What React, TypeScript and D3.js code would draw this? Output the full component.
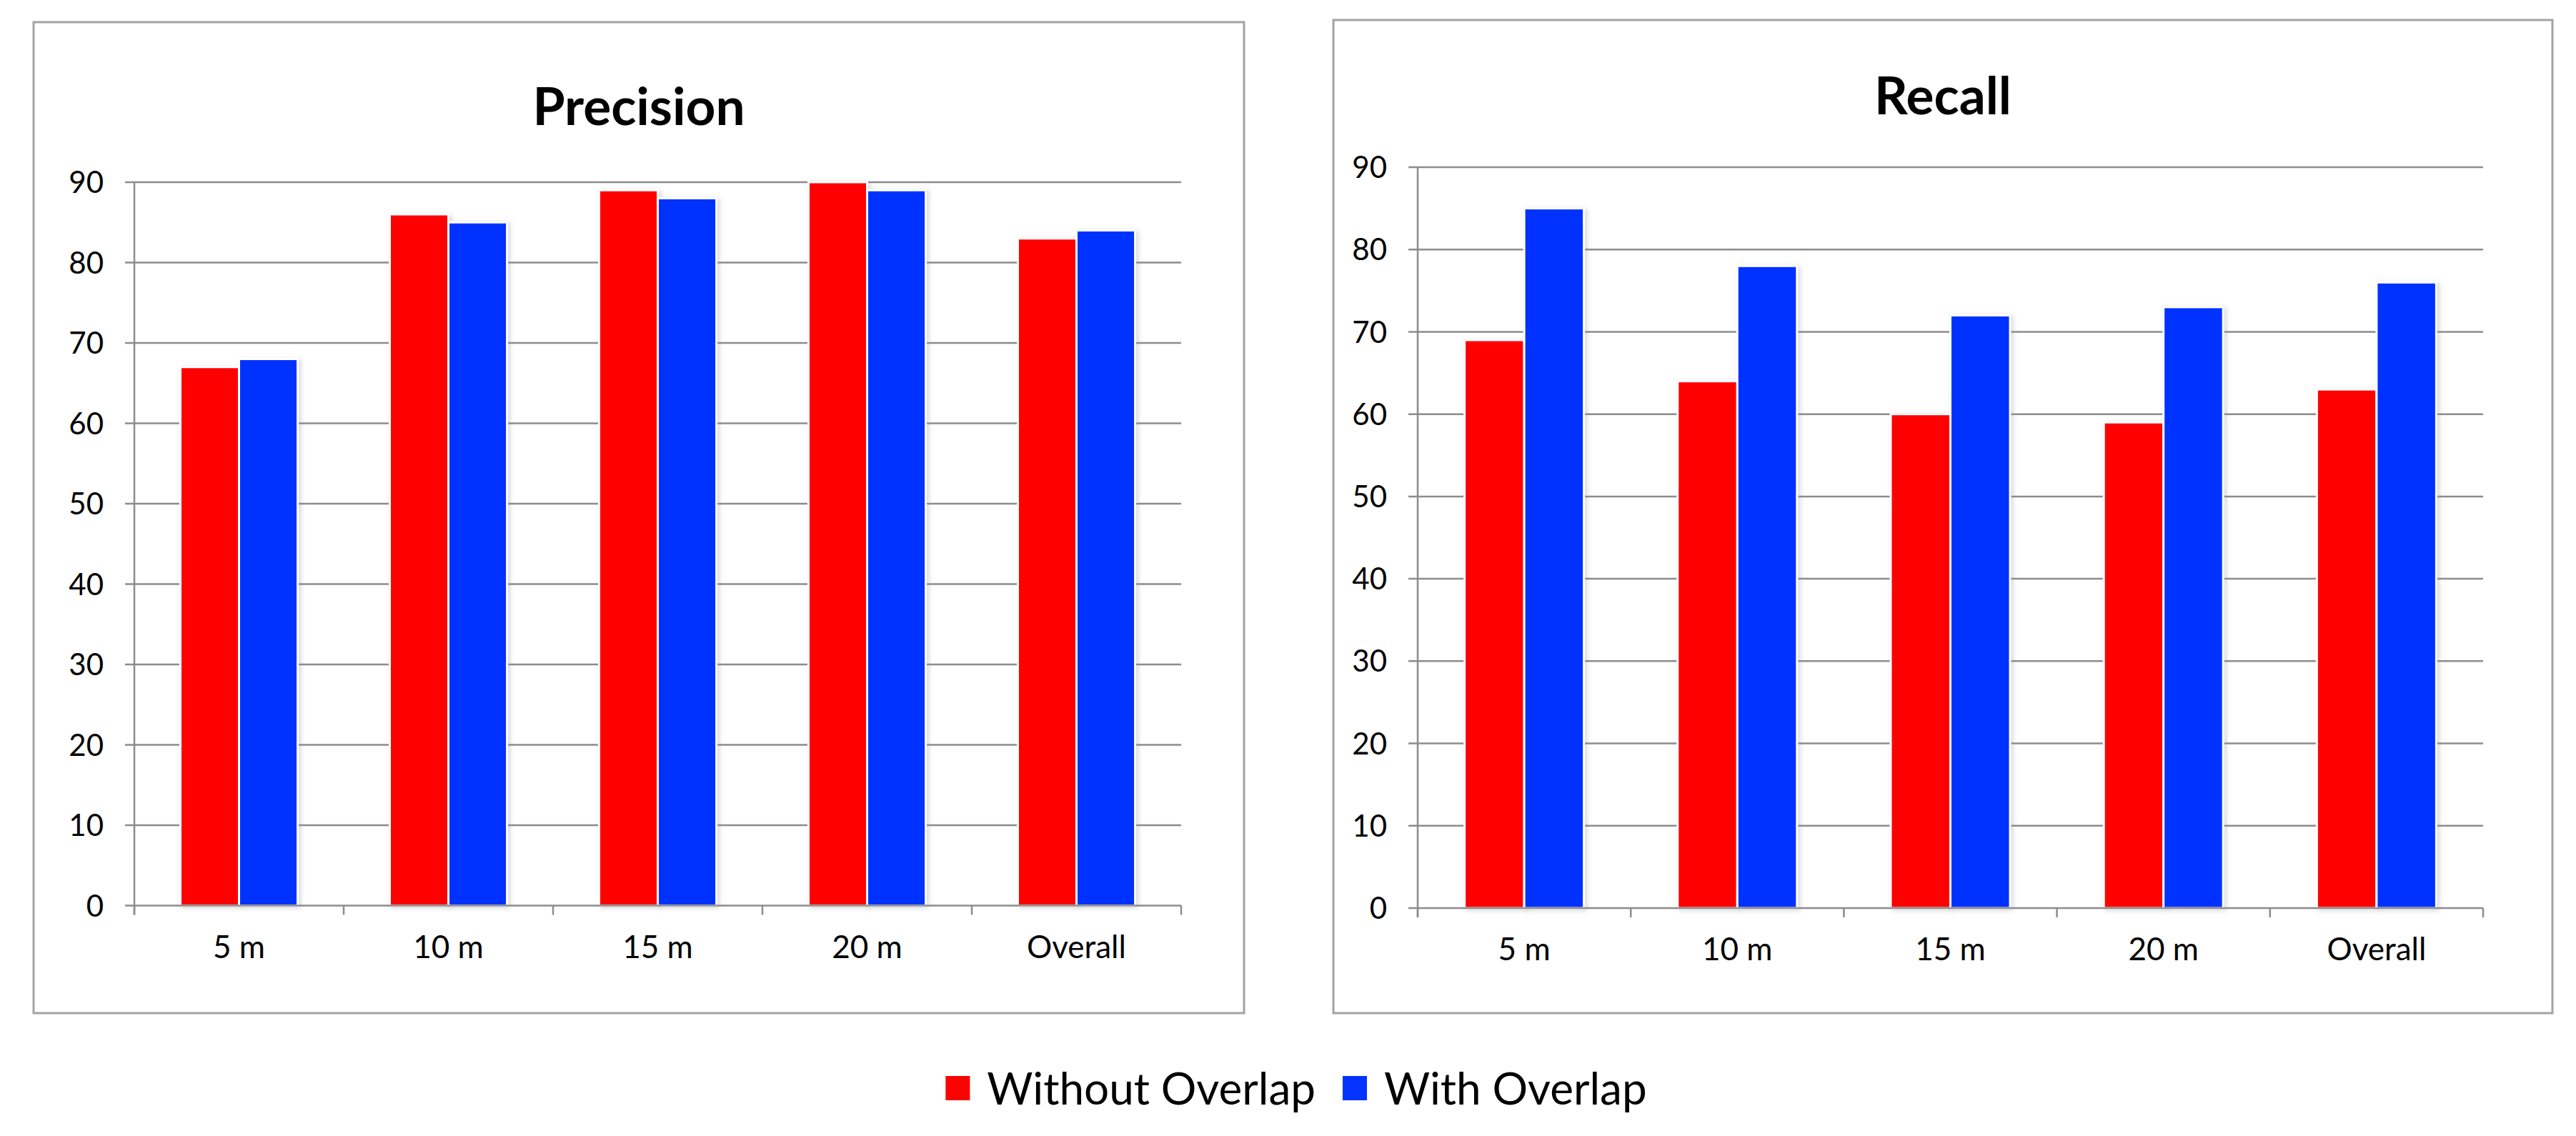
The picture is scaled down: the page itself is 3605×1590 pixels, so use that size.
import React, { useEffect, useRef } from 'react';
import * as d3 from 'd3';

// chart values
const categories = ['5 m', '10 m', '15 m', '20 m', 'Overall'];
const seriesNames = ['Without Overlap', 'With Overlap'];
const seriesColors = ['#ff0000', '#0433ff'];
const precisionWithout = [67, 86, 89, 90, 83];
const precisionWith = [68, 85, 88, 89, 84];
const recallWithout = [69, 64, 60, 59, 63];
const recallWith = [85, 78, 72, 73, 76];
const yTicks = [0, 10, 20, 30, 40, 50, 60, 70, 80, 90];

const W = 3605;
const H = 1590;
const FONT = 'Lato, "Open Sans", sans-serif';
const GRID = '#8c8c8c';

interface Box { x: number; y: number; w: number; h: number; }
interface Plot { left: number; right: number; top: number; bottom: number; }

const App: React.FC = () => {
  const svgRef = useRef<SVGSVGElement | null>(null);

  useEffect(() => {
    const svg = d3.select(svgRef.current);
    svg.selectAll('*').remove();

    const filter = svg.append('defs').append('filter')
      .attr('id', 'barShadow')
      .attr('x', '-20%').attr('y', '-5%')
      .attr('width', '140%').attr('height', '110%');
    filter.append('feDropShadow')
      .attr('dx', 3).attr('dy', 2)
      .attr('stdDeviation', 3)
      .attr('flood-color', '#9090a0')
      .attr('flood-opacity', 0.35);

    function drawPanel(box: Box, plot: Plot, title: string, titleY: number, without: number[], withO: number[]) {
      const g = svg.append('g');

      g.append('rect')
        .attr('x', box.x).attr('y', box.y)
        .attr('width', box.w).attr('height', box.h)
        .attr('fill', '#fff')
        .attr('stroke', '#a3a3a3')
        .attr('stroke-width', 3);

      g.append('text')
        .attr('x', box.x + box.w / 2)
        .attr('y', titleY)
        .attr('text-anchor', 'middle')
        .attr('font-family', FONT)
        .attr('font-weight', 700)
        .attr('font-size', 73)
        .attr('fill', '#000')
        .text(title);

      const y = d3.scaleLinear().domain([0, 90]).range([plot.bottom, plot.top]);
      const x0 = d3.scaleBand<string>().domain(categories).range([plot.left, plot.right]).padding(0);
      const step = x0.bandwidth();
      const x1 = d3.scaleBand<string>().domain(seriesNames).range([step * 0.22, step * 0.78]).padding(0);

      // horizontal gridlines (with the little tick stubs left of the axis)
      g.append('g').selectAll('line')
        .data(yTicks.filter(t => t !== 0))
        .join('line')
        .attr('x1', plot.left - 13).attr('x2', plot.right)
        .attr('y1', d => y(d)).attr('y2', d => y(d))
        .attr('stroke', GRID).attr('stroke-width', 2.5);

      g.append('g').selectAll('text')
        .data(yTicks)
        .join('text')
        .attr('x', plot.left - 43)
        .attr('y', d => y(d))
        .attr('dy', '0.36em')
        .attr('text-anchor', 'end')
        .attr('font-family', FONT)
        .attr('font-size', 42)
        .attr('fill', '#000')
        .text(d => d);

      // bars
      const rows = categories.map((c, i) => ({ cat: c, vals: [without[i], withO[i]] }));
      g.append('g').selectAll('g')
        .data(rows)
        .join('g')
        .attr('transform', d => `translate(${x0(d.cat)},0)`)
        .selectAll('rect')
        .data(d => d.vals.map((v, j) => ({ name: seriesNames[j], v, color: seriesColors[j] })))
        .join('rect')
        .attr('x', d => x1(d.name)!)
        .attr('y', d => y(d.v))
        .attr('width', x1.bandwidth())
        .attr('height', d => y(0) - y(d.v))
        .attr('fill', d => d.color)
        .attr('stroke', '#fff')
        .attr('stroke-width', 3)
        .attr('filter', 'url(#barShadow)');

      // axes
      g.append('line')
        .attr('x1', plot.left - 13).attr('x2', plot.right)
        .attr('y1', y(0)).attr('y2', y(0))
        .attr('stroke', GRID).attr('stroke-width', 2.5);
      g.append('line')
        .attr('x1', plot.left).attr('x2', plot.left)
        .attr('y1', plot.top).attr('y2', y(0) + 13)
        .attr('stroke', GRID).attr('stroke-width', 2.5);

      const tickXs = categories.map(c => x0(c)!).concat([plot.right]);
      g.append('g').selectAll('line')
        .data(tickXs)
        .join('line')
        .attr('x1', d => d).attr('x2', d => d)
        .attr('y1', y(0)).attr('y2', y(0) + 13)
        .attr('stroke', GRID).attr('stroke-width', 2.5);

      g.append('g').selectAll('text')
        .data(categories)
        .join('text')
        .attr('x', d => x0(d)! + step / 2)
        .attr('y', y(0) + 73)
        .attr('text-anchor', 'middle')
        .attr('font-family', FONT)
        .attr('font-size', 44)
        .attr('fill', '#000')
        .text(d => d);
    }

    drawPanel({ x: 47, y: 31, w: 1694, h: 1387 }, { left: 188, right: 1653, top: 255, bottom: 1267.5 },
      'Precision', 175, precisionWithout, precisionWith);
    drawPanel({ x: 1866, y: 28, w: 1706, h: 1390 }, { left: 1984, right: 3475, top: 234, bottom: 1271 },
      'Recall', 160, recallWithout, recallWith);

    // legend
    const legend = svg.append('g');
    let cursor = 0;
    seriesNames.forEach((name, i) => {
      legend.append('rect')
        .attr('x', cursor).attr('y', -17)
        .attr('width', 34).attr('height', 34)
        .attr('fill', seriesColors[i]);
      cursor += 58;
      const t = legend.append('text')
        .attr('x', cursor).attr('y', 23)
        .attr('font-family', FONT)
        .attr('font-size', 62)
        .attr('fill', '#000')
        .text(name);
      const len = (t.node() as SVGTextElement).getComputedTextLength();
      cursor += len + (i < seriesNames.length - 1 ? 38 : 0);
    });
    legend.attr('transform', `translate(${1814 - cursor / 2},1523)`);
  }, []);

  return (
    <svg
      ref={svgRef}
      width={W}
      height={H}
      style={{ position: 'absolute', left: 0, top: 0, background: '#fff' }}
    />
  );
};

export default App;
